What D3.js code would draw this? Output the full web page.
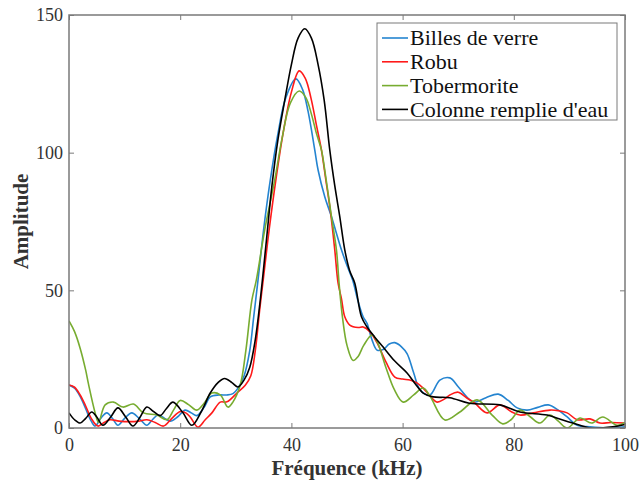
<!DOCTYPE html>
<html>
<head>
<meta charset="utf-8">
<script src="https://d3js.org/d3.v7.min.js"></script>
<style>
  body { margin: 0; background: #fff; }
  svg text { font-family: "Liberation Serif", "Times New Roman", serif; }
</style>
</head>
<body>
<script>
// series names (legend order)
var seriesNames = ["Billes de verre", "Robu", "Tobermorite", "Colonne remplie d'eau"];
var seriesColors = ["#2484d0", "#ff1a1a", "#77ac30", "#000000"];

// frequency (kHz), amplitude pairs
var billes = [[0,15.6],[1,14.5],[2,11.5],[3,7],[4,2.5],[4.7,0.7],[5.7,3.5],[6.8,5.5],[7.8,3.5],[8.8,1],[10,3.5],[11.3,5.5],[12.6,3.5],[14,1],[15,3],[16,4.7],[17.2,3.5],[18.2,2.5],[19.5,4],[20.9,6.5],[22,5.5],[23,4.5],[24.3,7.5],[25.4,11.3],[27,12],[28.4,12],[29.5,12.5],[30.4,14.5],[31.5,19],[32.5,28],[33.2,40],[34,53.8],[35,72],[36.2,90],[37.5,106],[39,120],[40.8,126.8],[42,123],[43,115],[44.2,101],[44.8,93.7],[46,84],[47.2,76.8],[49,64.7],[50,59],[51,53.8],[52,46],[52.9,40.4],[53.6,38],[54.5,32],[55.4,28.3],[56.5,28.5],[57.6,30.5],[58.6,31],[59.8,29.5],[60.8,27],[62,20],[63.1,14],[64.9,12],[66.7,17.4],[68.5,18.2],[70,15],[72.1,10.2],[73,9.4],[75,11],[77.2,12.3],[79,10],[80.6,7.3],[82.4,6.5],[84.3,7.5],[86.2,8.4],[88,6.5],[89.6,4],[91.4,1],[93.7,0.4],[96.8,0],[100,0.4]];

var robu = [[0,15.6],[1,14.8],[2,12],[3,8],[4,3.5],[5.2,0.7],[6.3,2],[7.4,3],[9,2.5],[11,2.3],[12.5,2.5],[14,3],[15.5,2],[17,0.7],[18.5,3.5],[20,6],[21,5.5],[21.8,4],[23.2,0.3],[24.5,3],[25.7,5.5],[27.2,9.4],[28.4,9.5],[30.2,12.7],[31.7,15.5],[32.7,19],[33.5,28],[34.3,43],[35,55],[36,72],[37.2,90],[38.5,107],[40,122],[41.4,129.7],[42.5,127],[43.5,120],[44.5,110],[45.4,101],[46.2,90],[47,79],[47.8,64.7],[48.4,52.6],[49,47],[49.6,40.4],[50.5,37.4],[52,36.5],[52.9,36.7],[54.1,35],[55.4,31],[57,24],[58.6,18.5],[60,17.8],[61.3,17.4],[62.5,16.5],[63.7,14.5],[65,11.5],[66.2,9.4],[67.5,10.5],[68.5,12],[70,13],[71.5,11],[73,9],[75.2,5.5],[77.5,8.4],[79.5,6],[81.1,4.7],[83.5,5.5],[86.5,6.5],[88,6.3],[89.6,5.5],[91.4,3],[93.7,3.3],[95.5,1.8],[97.5,2],[100,1.8]];

var tobermorite = [[0,38.9],[1,35],[2,29],[3,21],[3.5,16],[4.7,5.5],[5.3,2],[6.5,8.4],[8,9.4],[9.7,7.6],[11.6,8.7],[13.4,5.5],[15.8,4.7],[17.6,3],[18.8,6.5],[20,10],[21.5,8.5],[23,6.5],[24.3,9],[25.7,12.7],[27.2,12],[28.6,7.6],[29.5,9.5],[30.8,15.6],[31.8,28],[32.9,46.5],[33.7,53.8],[35.2,72],[37,90],[38.3,105],[39.8,118],[41.4,122.4],[42.6,120],[43.6,114],[44.5,107],[45.4,101],[46,93.7],[47.2,76.8],[48.1,64.7],[48.6,52],[49.2,40],[50,30],[51.1,24.5],[52,26],[53,30],[54.5,33.8],[55.5,31],[57,22],[58.5,14],[60.1,9.4],[62,12],[63.7,14.5],[65,11.3],[67.6,2.9],[70.3,5.8],[73.4,10.2],[76.1,4.7],[78,1.5],[79.5,3],[81.1,6.5],[83,4],[84.7,1.8],[86.5,4.7],[88,2.5],[89.6,0],[91.9,3.6],[94,1.8],[96,4],[98.6,1],[100,2]];

var colonne = [[0,5.5],[1,3],[2,1.8],[3,3.5],[4.1,5.8],[5,4],[6.1,1],[7.5,4],[8.8,7.3],[10.2,4],[11.5,0.7],[12.8,4],[14,7.6],[15.2,6],[16.4,4.5],[17.5,7],[18.7,9.4],[20.5,5.5],[22.1,1],[23.8,6],[25.4,12.7],[26.8,16.5],[28,18],[29.3,16.5],[30.4,14.9],[31.5,17.5],[32.5,22],[33.5,32],[34.4,46.5],[35.5,68],[36.5,88],[37.6,105],[38.8,119],[40,132],[41.2,141.6],[42.4,145],[43.6,141.6],[44.8,132],[45.9,119],[46.9,101],[47.8,88],[48.7,76.8],[49.6,64.7],[50.5,57],[51.4,52.6],[52.6,40.4],[53.6,36.7],[55,33],[56.5,29.4],[58.5,24.5],[60.8,20],[62.3,16],[63.7,12.7],[65.5,11.3],[68.5,11],[72,9],[77.5,8.4],[81.1,5.8],[86,4.7],[88.8,2.9],[91.9,1],[93.7,0],[97.8,0.4],[100,1.3]];

var series = [billes, robu, tobermorite, colonne];
var xTicks = [0, 20, 40, 60, 80, 100];
var yTicks = [0, 50, 100, 150];

var W = 639, H = 481;
var margin = { top: 15, right: 14, bottom: 53, left: 69 };
var width = W - margin.left - margin.right,
    height = H - margin.top - margin.bottom;

var svg = d3.select("body").append("svg")
    .attr("width", W)
    .attr("height", H);

var g = svg.append("g")
    .attr("transform", "translate(" + margin.left + "," + margin.top + ")");

var x = d3.scaleLinear().domain([0, 100]).range([0, width]);
var y = d3.scaleLinear().domain([0, 150]).range([height, 0]);

g.append("clipPath").attr("id", "clip")
  .append("rect").attr("width", width).attr("height", height);

// curves
var line = d3.line()
    .x(function (d) { return x(d[0]); })
    .y(function (d) { return y(d[1]); })
    .curve(d3.curveCatmullRom.alpha(0.5));

var curves = g.append("g").attr("clip-path", "url(#clip)");
// black drawn last so it sits on top like in the picture
series.forEach(function (s, i) {
    curves.append("path")
        .datum(s)
        .attr("d", line)
        .attr("fill", "none")
        .attr("stroke", seriesColors[i])
        .attr("stroke-width", 1.6);
});

// axes (ticks pointing inward, box around)
var axisColor = "#7a7a7a";
function styleAxis(sel) {
    sel.selectAll(".domain").remove();
    sel.selectAll(".tick line").attr("stroke", axisColor).attr("stroke-width", 1);
    sel.selectAll(".tick text").attr("fill", "#333").style("font-size", "18px");
}

g.append("g")
    .attr("transform", "translate(0," + height + ")")
    .call(d3.axisBottom(x).tickValues(xTicks).tickSize(-5).tickPadding(10))
    .call(styleAxis);

g.append("g")
    .call(d3.axisLeft(y).tickValues(yTicks).tickSize(-5).tickPadding(6))
    .call(styleAxis)
    .selectAll(".tick text").attr("dy", "0.33em");

g.append("g")
    .call(d3.axisTop(x).tickValues(xTicks).tickSize(-5).tickFormat(""))
    .call(styleAxis);

g.append("g")
    .attr("transform", "translate(" + width + ",0)")
    .call(d3.axisRight(y).tickValues(yTicks).tickSize(-5).tickFormat(""))
    .call(styleAxis);

g.append("rect")
    .attr("width", width).attr("height", height)
    .attr("fill", "none")
    .attr("stroke", axisColor)
    .attr("stroke-width", 1.5);

// axis titles
svg.append("text")
    .attr("x", margin.left + width / 2)
    .attr("y", 475)
    .attr("text-anchor", "middle")
    .style("font-size", "21px")
    .style("font-weight", "bold")
    .attr("fill", "#333")
    .text("Fréquence (kHz)");

svg.append("text")
    .attr("transform", "translate(28," + (margin.top + height / 2) + ") rotate(-90)")
    .attr("text-anchor", "middle")
    .style("font-size", "21px")
    .style("font-weight", "bold")
    .attr("fill", "#333")
    .text("Amplitude");

// legend
var legend = svg.append("g").attr("transform", "translate(377,23)");
legend.append("rect")
    .attr("width", 240).attr("height", 97)
    .attr("fill", "#fff")
    .attr("stroke", axisColor)
    .attr("stroke-width", 1);

seriesNames.forEach(function (name, i) {
    var ly = 15 + i * 23.8;
    legend.append("line")
        .attr("x1", 5).attr("x2", 31)
        .attr("y1", ly).attr("y2", ly)
        .attr("stroke", seriesColors[i])
        .attr("stroke-width", 1.6);
    legend.append("text")
        .attr("x", 33).attr("y", ly)
        .attr("dy", "0.33em")
        .style("font-size", "22px")
        .attr("fill", "#111")
        .text(name);
});
</script>
</body>
</html>
